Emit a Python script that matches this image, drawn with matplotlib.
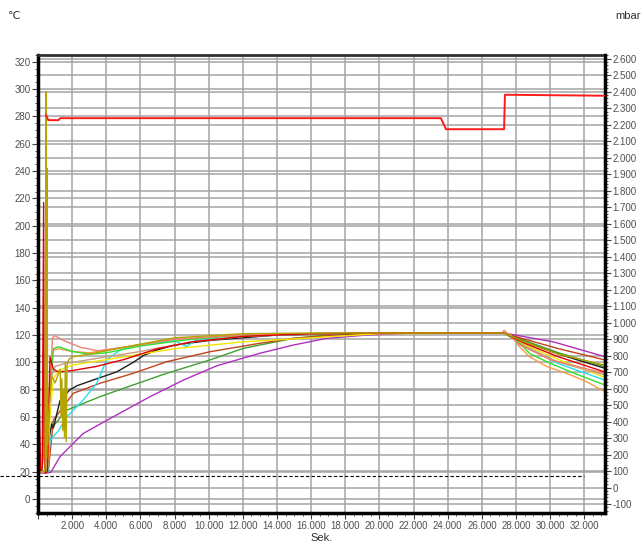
import matplotlib
matplotlib.use('Agg')
import matplotlib.pyplot as plt
from matplotlib.ticker import MultipleLocator, FuncFormatter
from matplotlib.transforms import blended_transform_factory

# --- Temperaturkurven (Sek., °C) ---
red_t = [0, 80, 160, 250, 330, 360, 420, 560, 700, 900, 1200, 2000, 3400, 5000, 7000, 9000, 12000, 16000, 20000, 27300, 28500, 30500, 33200]
red_v = [20, 63, 20, 22, 217, 30, 19, 20, 104, 95, 93, 94, 97, 102, 110, 115, 119, 121, 121.5, 121.5, 114, 104, 93]

salmon_t = [0, 450, 600, 850, 1000, 1500, 2500, 3500, 5000, 8000, 12000, 16000, 20000, 27200, 27300, 28200, 30000, 33200]
salmon_v = [20, 20, 60, 118, 119.5, 116, 111, 108.5, 111, 117, 120, 121, 121.5, 121.5, 123.5, 113, 102, 92]

lime_t = [0, 450, 650, 900, 1200, 2000, 3000, 4000, 6000, 9000, 12000, 16000, 20000, 27300, 28000, 28800, 29800, 31200, 33200]
lime_v = [20, 20, 70, 110, 111.5, 108, 106, 107, 112, 117, 120, 121, 121.5, 121.5, 116.5, 106.5, 100.5, 93, 83.5]

orange_t = [0, 450, 650, 900, 1200, 2000, 3000, 5000, 8000, 12000, 16000, 20000, 27300, 27700, 28200, 28800, 29800, 31200, 32100, 33200]
orange_v = [20, 20, 80, 109, 110, 108, 107, 111, 117, 120, 121, 121.5, 121.5, 120, 111.5, 104, 97, 90.8, 86, 78.6]

olive_t = [0, 380, 420, 470, 500, 530, 560, 620, 800, 1000, 1300, 1350, 1400, 1450, 1500, 1550, 1600, 1650, 1700, 1800, 2000, 3000, 5000, 8000, 12000, 16000, 20000, 27300, 28500, 30500, 33200]
olive_v = [20, 20, 25, 298, 30, 242, 40, 60, 90, 85, 95, 60, 88, 50, 80, 45, 100, 42, 98, 102, 104, 106, 111, 118, 121, 121.5, 121.5, 121.5, 115, 106, 98]

tan_t = [0, 450, 600, 800, 1000, 1500, 2000, 3000, 4000, 6000, 9000, 12000, 16000, 20000, 27300, 28500, 30500, 33200]
tan_v = [20, 20, 60, 90, 97, 99, 100, 102, 104, 108, 115, 119, 121, 121.5, 121.5, 112, 100, 90.8]

yellow_t = [0, 550, 700, 900, 1200, 1600, 2000, 3000, 5000, 8000, 12000, 16000, 20000, 27300, 28500, 30500, 33200]
yellow_v = [20, 20, 60, 88, 94, 96, 98, 100, 104, 110, 115, 118, 121, 121.5, 113, 102, 89]

black_t = [0, 500, 650, 800, 900, 1290, 1870, 2300, 3440, 4600, 5580, 6170, 6950, 7930, 10000, 14000, 20000, 27300, 28500, 30500, 33200]
black_v = [20, 20, 45, 55, 52, 72, 80, 83, 88, 93, 100, 105, 109, 112.5, 116, 120, 121.5, 121.5, 115, 106, 95.7]

cyan_t = [0, 600, 700, 1200, 1680, 2650, 3440, 4020, 4800, 6000, 8000, 8700, 9200, 12000, 16000, 20000, 27300, 28500, 30500, 33200]
cyan_v = [20, 20, 43, 50, 60, 72.5, 84.7, 101.8, 109, 113, 116, 111.5, 116, 119, 121, 121.5, 121.5, 112, 99, 87]

sienna_t = [0, 600, 900, 2070, 3630, 5580, 7540, 10076, 13005, 14960, 18000, 20000, 27300, 28500, 30500, 33200]
sienna_v = [20, 20, 57.8, 77.4, 84.7, 92, 100.5, 107.8, 114, 117.6, 120.5, 121.5, 121.5, 117, 110, 101.8]

green_t = [0, 600, 700, 1680, 3630, 5580, 7540, 10076, 12030, 14960, 16900, 20000, 27300, 28500, 30500, 33200]
green_v = [20, 20, 50.5, 65, 74.9, 83.5, 92, 101.8, 110.3, 117.6, 120, 121.5, 121.5, 116, 107, 96.9]

purple_t = [0, 500, 750, 1290, 2650, 4600, 6560, 8510, 10470, 13005, 14960, 16900, 19250, 22000, 27300, 30190, 33200]
purple_v = [19, 19, 19.5, 31, 48, 61.5, 74.9, 87, 97.5, 106.7, 112.7, 117.6, 120, 121.5, 121.5, 115, 104.2]

# Druck (mbar, rechte Achse)
press_t = [470, 600, 1200, 1300, 23600, 23900, 27300, 27350, 33200]
press_v = [2260, 2228, 2228, 2240, 2240, 2173, 2173, 2382, 2376]

# gestrichelte Referenzlinie (°C)
ref_t = [-2200, 32000]
ref_v = [16.5, 16.5]

curves = [
    (purple_t, purple_v, '#b030c0'),
    (green_t, green_v, '#3fa030'),
    (sienna_t, sienna_v, '#c0441c'),
    (black_t, black_v, '#202020'),
    (cyan_t, cyan_v, '#20e0f0'),
    (yellow_t, yellow_v, '#f5e600'),
    (tan_t, tan_v, '#c8a080'),
    (orange_t, orange_v, '#f89a48'),
    (lime_t, lime_v, '#30e030'),
    (salmon_t, salmon_v, '#f08070'),
    (red_t, red_v, '#e00000'),
    (olive_t, olive_v, '#b4a400'),
]

plt.rcParams['font.family'] = ['Liberation Sans', 'DejaVu Sans']

fig = plt.figure(figsize=(6.42, 5.46), dpi=100)
ax = fig.add_axes([38 / 642, 1 - 513 / 546, (605 - 38) / 642, (513 - 55) / 546])
ax2 = ax.twinx()

ax.set_xlim(0, 33212)
ax.set_ylim(-10.25, 325)
ax2.set_ylim(-154, 2623)

thousands = FuncFormatter(lambda v, p: f"{int(round(v)):,}".replace(',', '.'))

ax.xaxis.set_major_locator(MultipleLocator(2000))
ax.xaxis.set_minor_locator(MultipleLocator(500))
ax.xaxis.set_major_formatter(FuncFormatter(lambda v, p: '' if v < 1 else f"{int(round(v)):,}".replace(',', '.')))
ax.yaxis.set_major_locator(MultipleLocator(20))
ax.yaxis.set_minor_locator(MultipleLocator(5))
ax2.yaxis.set_major_locator(MultipleLocator(100))
ax2.yaxis.set_minor_locator(MultipleLocator(20))
ax2.yaxis.set_major_formatter(thousands)

grid_col = '#a4a4a4'
ax.grid(True, which='major', color=grid_col, linewidth=1.1, zorder=0)
# Gitterlinien der rechten Achse, unter den Kurven gezeichnet
tr = blended_transform_factory(ax.transAxes, ax2.transData)
for v in range(-100, 2601, 100):
    ax.plot([0, 1], [v, v], transform=tr, color=grid_col, linewidth=1.1, zorder=0.5)

for t, v, c in curves:
    ax.plot(t, v, color=c, linewidth=1.0, zorder=2)

ax.plot(ref_t, ref_v, color='black', linestyle=(0, (3, 2)), linewidth=0.8, clip_on=False, zorder=3)

ax2.plot(press_t, press_v, color='#ff1a1a', linewidth=1.4, zorder=3)

for a in (ax, ax2):
    a.tick_params(which='both', labelsize=7, labelcolor='#505050', color='#404040')
    a.tick_params(which='major', length=4, width=0.8, pad=1.5)
    a.tick_params(which='minor', length=2, width=0.6)

ax.spines['left'].set_linewidth(2.5)
ax.spines['bottom'].set_linewidth(2.5)
ax.spines['top'].set_linewidth(2)
ax.spines['top'].set_color('#303030')
ax.spines['right'].set_visible(False)
ax2.spines['right'].set_linewidth(2.5)
for s in ('left', 'bottom', 'top'):
    ax2.spines[s].set_visible(False)

ax.set_xlabel('Sek.', fontsize=8, color='#303030', labelpad=2)
fig.text(14 / 642, 1 - 16 / 546, '℃', fontsize=8, ha='center', va='center', color='#303030')
fig.text(628 / 642, 1 - 16 / 546, 'mbar', fontsize=8, ha='center', va='center', color='#303030')

fig.savefig('out.png', dpi=100)
